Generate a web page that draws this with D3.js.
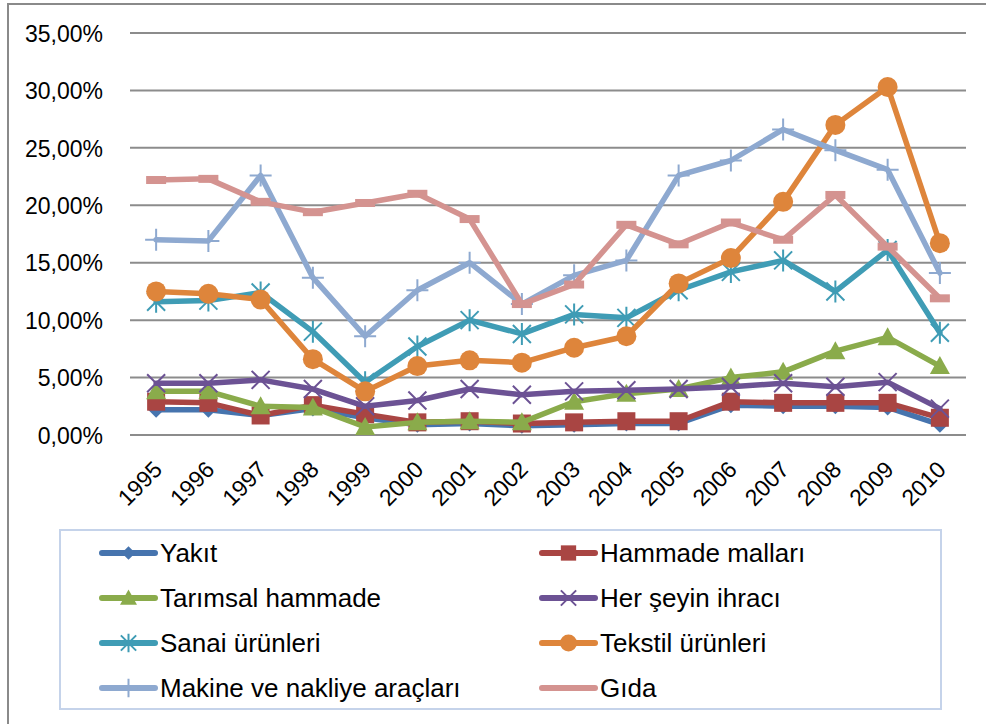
<!DOCTYPE html>
<html><head><meta charset="utf-8">
<script src="https://cdn.jsdelivr.net/npm/d3@7"></script>
<style>body{margin:0;background:#fff}svg{display:block}</style>
</head><body>
<svg id="c" width="986" height="724"></svg>
<script>
const years = ["1995","1996","1997","1998","1999","2000","2001","2002","2003","2004","2005","2006","2007","2008","2009","2010"];
const yTicks = [0,5,10,15,20,25,30,35];
const seriesNames = ["Yakıt","Hammade malları","Tarımsal hammade","Her şeyin ihracı","Sanai ürünleri","Tekstil ürünleri","Makine ve nakliye araçları","Gıda"];
const yakit    = [2.2,2.2,1.7,2.3,1.5,0.9,1.0,0.8,0.9,1.0,1.0,2.6,2.5,2.5,2.4,0.9];
const hammade  = [2.9,2.8,1.7,2.6,1.8,1.1,1.2,1.0,1.1,1.2,1.2,2.9,2.8,2.8,2.8,1.5];
const tarimsal = [3.8,3.8,2.5,2.4,0.7,1.1,1.2,1.1,2.9,3.6,4.0,5.0,5.5,7.3,8.5,6.0];
const herSeyin = [4.5,4.5,4.8,4.0,2.5,3.0,4.0,3.5,3.8,3.9,4.0,4.2,4.5,4.2,4.6,2.3];
const sanai    = [11.6,11.7,12.4,9.0,4.6,7.7,10.0,8.8,10.5,10.2,12.6,14.2,15.2,12.5,16.1,8.9];
const tekstil  = [12.5,12.3,11.8,6.6,3.8,6.0,6.5,6.3,7.6,8.6,13.2,15.4,20.3,27.0,30.3,16.7];
const makine   = [17.0,16.9,22.6,13.7,8.6,12.6,15.0,11.4,13.9,15.2,22.6,23.9,26.6,24.8,23.1,14.1];
const gida     = [22.2,22.3,20.3,19.4,20.2,21.0,18.8,11.4,13.1,18.3,16.6,18.5,17.0,20.9,16.4,11.9];

const seriesValues = [yakit,hammade,tarimsal,herSeyin,sanai,tekstil,makine,gida];
const colors = ["#4674ae","#a94543","#8aab4b","#6c5294","#3f9cb5","#de853b","#8ea9d0","#d49390"];
const markers = ["diamond","square","triangle","x","asterisk","circle","plus","dash"];

const svg = d3.select("#c");
const fontLbl = "'Liberation Sans', Arial, sans-serif";

// outer chart frame
svg.append("rect").attr("x",8).attr("y",4).attr("width",1100).attr("height",900)
  .attr("fill","none").attr("stroke","#8a8a8a").attr("stroke-width",2);

const x = d3.scalePoint().domain(years).range([130,966]).padding(0.5);
const y = d3.scaleLinear().domain([0,35]).range([435,33]);

const loc = d3.formatLocale({decimal:",",thousands:".",grouping:[3],currency:["","%"]});
const fmt = v => loc.format(".2f")(v) + "%";

// gridlines
svg.append("g").selectAll("line").data(yTicks).join("line")
  .attr("x1",130).attr("x2",966).attr("y1",d=>y(d)).attr("y2",d=>y(d))
  .attr("stroke","#8c8c8c").attr("stroke-width",2);

// y axis labels
const yAxis = d3.axisLeft(y).tickValues(yTicks).tickFormat(fmt).tickSize(0).tickPadding(0);
const ya = svg.append("g").attr("transform","translate(103,0)").call(yAxis);
ya.select(".domain").remove();
ya.selectAll("text").attr("font-family",fontLbl).attr("font-size",23).attr("fill","#000").attr("dy","0.36em");

// x axis labels
const xAxis = d3.axisBottom(x).tickSize(0).tickPadding(0);
const xa = svg.append("g").attr("transform","translate(0,435)").call(xAxis);
xa.select(".domain").remove();
xa.selectAll("text").attr("font-family",fontLbl).attr("font-size",23).attr("fill","#000")
  .attr("text-anchor","end").attr("dy",null).attr("y",0)
  .attr("transform","translate(7,36) rotate(-45)");

function drawMarker(g, type, color, cx, cy, s) {
  s = s || 1;
  if (type==="diamond") {
    g.append("path").attr("d",`M${cx},${cy-8*s}L${cx+8*s},${cy}L${cx},${cy+8*s}L${cx-8*s},${cy}Z`).attr("fill",color);
  } else if (type==="square") {
    g.append("rect").attr("x",cx-9*s).attr("y",cy-9*s).attr("width",18*s).attr("height",18*s).attr("fill",color);
  } else if (type==="triangle") {
    g.append("path").attr("d",`M${cx},${cy-10*s}L${cx+10*s},${cy+8*s}L${cx-10*s},${cy+8*s}Z`).attr("fill",color);
  } else if (type==="x") {
    g.append("path").attr("d",`M${cx-9*s},${cy-9*s}L${cx+9*s},${cy+9*s}M${cx-9*s},${cy+9*s}L${cx+9*s},${cy-9*s}`)
      .attr("stroke",color).attr("stroke-width",2).attr("fill","none");
  } else if (type==="asterisk") {
    g.append("path").attr("d",`M${cx-9*s},${cy-9*s}L${cx+9*s},${cy+9*s}M${cx-9*s},${cy+9*s}L${cx+9*s},${cy-9*s}M${cx},${cy-11*s}L${cx},${cy+11*s}`)
      .attr("stroke",color).attr("stroke-width",2).attr("fill","none");
  } else if (type==="circle") {
    g.append("circle").attr("cx",cx).attr("cy",cy).attr("r",10*s).attr("fill",color);
  } else if (type==="plus") {
    g.append("path").attr("d",`M${cx-11*s},${cy}L${cx+11*s},${cy}M${cx},${cy-11*s}L${cx},${cy+11*s}`)
      .attr("stroke",color).attr("stroke-width",2).attr("fill","none");
  } else if (type==="dash") {
    g.append("rect").attr("x",cx-10*s).attr("y",cy-4*s).attr("width",20*s).attr("height",8*s).attr("fill",color);
  }
}

const line = d3.line().x((d,i)=>x(years[i])).y(d=>y(d));
const plot = svg.append("g");
seriesValues.forEach((vals,k)=>{
  const g = plot.append("g");
  g.append("path").attr("d",line(vals)).attr("fill","none").attr("stroke",colors[k])
    .attr("stroke-width",5.5).attr("stroke-linejoin","round").attr("stroke-linecap","round");
  vals.forEach((v,i)=>drawMarker(g, markers[k], colors[k], x(years[i]), y(v), 1));
});

// legend
svg.append("rect").attr("x",60).attr("y",530).attr("width",881).attr("height",179)
  .attr("fill","#fff").attr("stroke","#c5d3ea").attr("stroke-width",2);
const lg = svg.append("g");
seriesNames.forEach((name,k)=>{
  const col = k%2, row = Math.floor(k/2);
  const lx = col===0 ? 100 : 540;
  const ly = 553 + row*45;
  const g = lg.append("g");
  g.append("line").attr("x1",lx+2).attr("x2",lx+55).attr("y1",ly).attr("y2",ly)
    .attr("stroke",colors[k]).attr("stroke-width",6).attr("stroke-linecap","round");
  if (markers[k]!=="dash") drawMarker(g, markers[k], colors[k], lx+28.5, ly, 0.85);
  g.append("text").attr("x",lx+60).attr("y",ly).attr("dy","0.36em")
    .attr("font-family",fontLbl).attr("font-size",26).attr("fill","#000").text(name);
});
</script>
</body></html>
